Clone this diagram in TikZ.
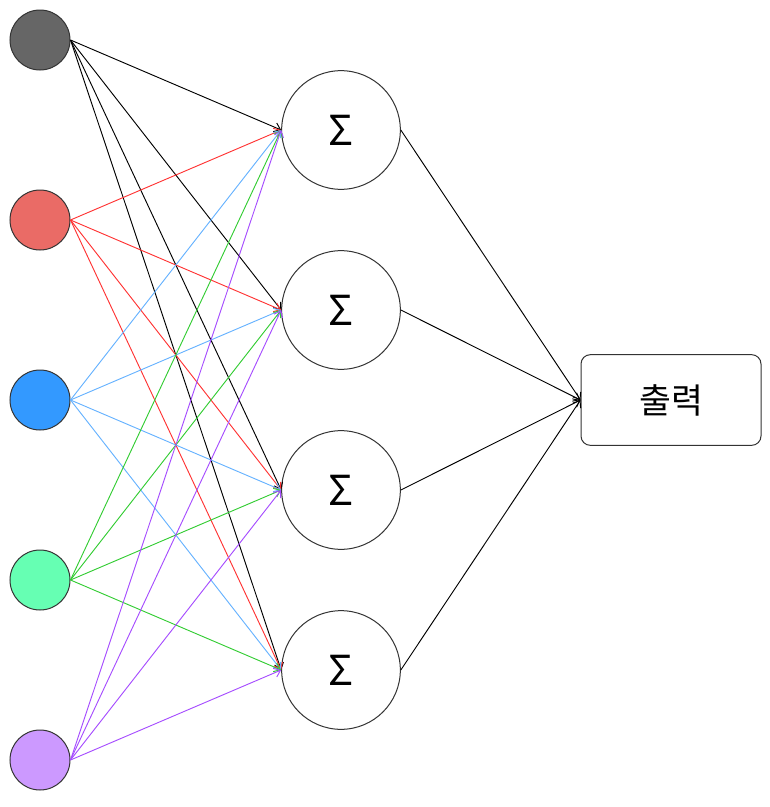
\documentclass[tikz,border=0pt]{standalone}
\usepackage{fontspec}
\setmainfont{Noto Sans CJK KR}
\usetikzlibrary{shapes,backgrounds}
\usetikzlibrary{arrows.meta}

\definecolor{grayin}{HTML}{666666}
\definecolor{redin}{HTML}{EA6B66}
\definecolor{bluein}{HTML}{3399FF}
\definecolor{greenin}{HTML}{66FFB3}
\definecolor{purplein}{HTML}{CC99FF}
\definecolor{redln}{HTML}{FF3333}
\definecolor{blueln}{HTML}{66B2FF}
\definecolor{greenln}{HTML}{33CC33}
\definecolor{purpleln}{HTML}{A64DFF}

\tikzset{
  inp/.style={circle, draw=black!80, line width=0.75pt, minimum size=45pt, inner sep=0pt},
  sumnode/.style={circle, draw=black!80, line width=0.75pt, minimum size=89pt, inner sep=0pt,
    font=\fontsize{31}{31}\selectfont},
  outbox/.style={rectangle, rounded corners=7pt, draw=black!80, line width=0.75pt,
    minimum width=135pt, minimum height=68pt, font=\fontsize{26}{26}\selectfont},
  link/.style={->, line width=0.7pt}
}

\begin{document}
\begin{tikzpicture}[x=0.75pt, y=-0.75pt, >={Straight Barb[length=4.5pt,width=7pt]}]
\useasboundingbox (0,0) rectangle (770,807);

\node[inp, fill=grayin] (i1) at (40,40) {};
\node[inp, fill=redin] (i2) at (40,220) {};
\node[inp, fill=bluein] (i3) at (40,400) {};
\node[inp, fill=greenin] (i4) at (40,580) {};
\node[inp, fill=purplein] (i5) at (40,760) {};

\node[sumnode] (s1) at (341,130) {Σ};
\node[sumnode] (s2) at (341,310) {Σ};
\node[sumnode] (s3) at (341,490) {Σ};
\node[sumnode] (s4) at (341,670) {Σ};

\node[outbox] (out) at (671,400) {출력};

% inputs to sums
\draw[link, black] (i1.east) -- (s1.west);
\draw[link, black] (i1.east) -- (s2.west);
\draw[link, black] (i1.east) -- (s3.west);
\draw[link, black] (i1.east) -- (s4.west);
\draw[link, redln] (i2.east) -- (s1.west);
\draw[link, redln] (i2.east) -- (s2.west);
\draw[link, redln] (i2.east) -- (s3.west);
\draw[link, redln] (i2.east) -- (s4.west);
\draw[link, blueln] (i3.east) -- (s1.west);
\draw[link, blueln] (i3.east) -- (s2.west);
\draw[link, blueln] (i3.east) -- (s3.west);
\draw[link, blueln] (i3.east) -- (s4.west);
\draw[link, greenln] (i4.east) -- (s1.west);
\draw[link, greenln] (i4.east) -- (s2.west);
\draw[link, greenln] (i4.east) -- (s3.west);
\draw[link, greenln] (i4.east) -- (s4.west);
\draw[link, purpleln] (i5.east) -- (s1.west);
\draw[link, purpleln] (i5.east) -- (s2.west);
\draw[link, purpleln] (i5.east) -- (s3.west);
\draw[link, purpleln] (i5.east) -- (s4.west);

% sums to output
\draw[link, black] (s1.east) -- (out.west);
\draw[link, black] (s2.east) -- (out.west);
\draw[link, black] (s3.east) -- (out.west);
\draw[link, black] (s4.east) -- (out.west);

\end{tikzpicture}
\end{document}
